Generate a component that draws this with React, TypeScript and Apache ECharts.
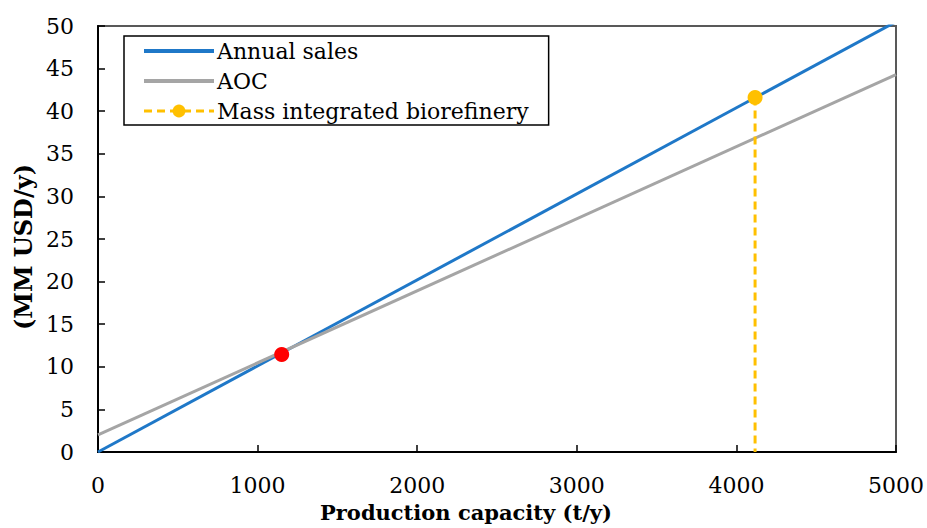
import React, { useEffect, useRef } from "react";
import * as echarts from "echarts";

const annualSales: [number, number][] = [[0, 0], [5000, 50.5]];
const aoc: [number, number][] = [[0, 2.0], [5000, 44.3]];
const massIntegrated: [number, number][] = [[4117, 41.6], [4117, 0]];
const breakEven: [number, number][] = [[1151, 11.45]];
const seriesNames = ["Annual sales", "AOC", "Mass integrated biorefinery"];

const FONT = "DejaVu Serif";

export default function App() {
  const ref = useRef<HTMLDivElement>(null);
  useEffect(() => {
    if (!ref.current) return;
    const chart = echarts.init(ref.current, null, { renderer: "svg" });
    chart.setOption({
      animation: false,
      textStyle: { fontFamily: FONT },
      grid: {
        left: 98,
        right: 31,
        top: 26,
        bottom: 74,
        show: true,
        borderColor: "#595959",
        borderWidth: 2,
      },
      legend: {
        data: [
          { name: seriesNames[0], itemStyle: { opacity: 0 }, lineStyle: { width: 4 } },
          { name: seriesNames[1], itemStyle: { opacity: 0 }, lineStyle: { width: 4 } },
          { name: seriesNames[2], lineStyle: { width: 3 } },
        ],
        orient: "vertical",
        left: 124,
        top: 36,
        itemWidth: 70,
        itemHeight: 16,
        itemGap: 8,
        padding: [4, 20, 3, 18],
        borderColor: "#000",
        borderWidth: 1.5,
        textStyle: { fontFamily: FONT, fontSize: 22, color: "#000", padding: [0, 0, 0, -2] },
      },
      xAxis: {
        type: "value",
        min: 0,
        max: 5000,
        interval: 1000,
        name: "Production capacity (t/y)",
        nameLocation: "middle",
        nameGap: 50,
        nameTextStyle: { fontFamily: FONT, fontSize: 21, fontWeight: "bold", color: "#000", padding: [0, 62, 0, 0] },
        axisLine: { lineStyle: { color: "#000", width: 2 } },
        axisTick: { inside: true, length: 7, lineStyle: { color: "#000", width: 1.5 } },
        axisLabel: { fontFamily: FONT, fontSize: 22, color: "#000", margin: 22, formatter: (v: number) => String(v) },
        splitLine: { show: false },
      },
      yAxis: {
        type: "value",
        min: 0,
        max: 50,
        interval: 5,
        name: "(MM USD/y)",
        nameLocation: "middle",
        nameGap: 60,
        nameTextStyle: { fontFamily: FONT, fontSize: 24, fontWeight: "bold", color: "#000", padding: [0, 16, 0, 0] },
        axisLine: { show: true, lineStyle: { color: "#000", width: 2 } },
        axisTick: { show: true, inside: true, length: 7, lineStyle: { color: "#000", width: 1.5 } },
        axisLabel: { fontFamily: FONT, fontSize: 22, color: "#000", margin: 24, formatter: (v: number) => String(v) },
        splitLine: { show: false },
      },
      series: [
        {
          name: seriesNames[0],
          type: "line",
          data: annualSales,
          showSymbol: false,
          symbol: "none",
          lineStyle: { color: "#1F78C8", width: 3 },
          itemStyle: { color: "#1F78C8" },
          clip: true,
        },
        {
          name: seriesNames[1],
          type: "line",
          data: aoc,
          showSymbol: false,
          symbol: "none",
          lineStyle: { color: "#A5A5A5", width: 3 },
          itemStyle: { color: "#A5A5A5" },
          clip: true,
        },
        {
          name: seriesNames[2],
          type: "line",
          data: massIntegrated.map((d, i) => ({ value: d, symbolSize: i === 0 ? 15 : 0 })),
          symbol: "circle",
          symbolSize: 15,
          showSymbol: true,
          lineStyle: { color: "#FFC000", width: 3, type: [8, 5] },
          itemStyle: { color: "#FFC000" },
          z: 3,
        },
        {
          name: "Break-even",
          type: "scatter",
          data: breakEven,
          symbol: "circle",
          symbolSize: 15,
          itemStyle: { color: "#FF0000", opacity: 1 },
          z: 4,
        },
      ],
    });
    return () => chart.dispose();
  }, []);
  return <div ref={ref} style={{ width: 927, height: 528, position: "absolute", left: 0, top: 0 }} />;
}
